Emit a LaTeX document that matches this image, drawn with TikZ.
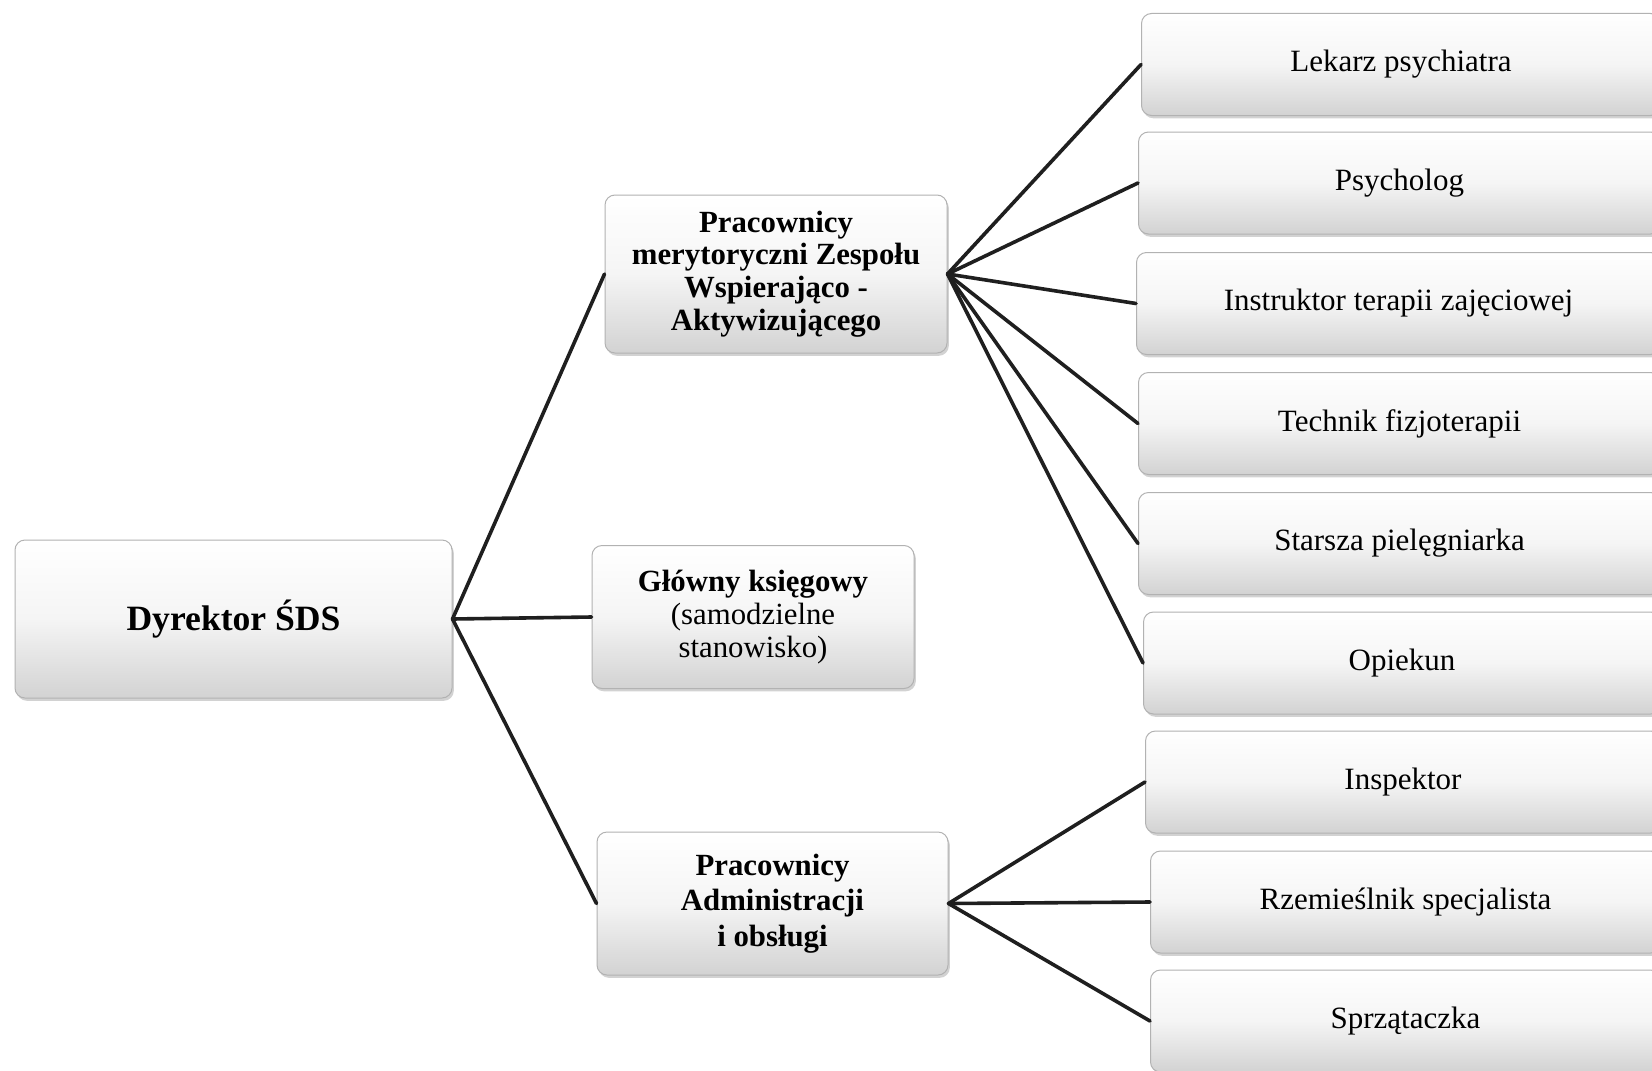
\documentclass[tikz,border=0pt]{standalone}
\usepackage{fontspec}
\setmainfont{Liberation Serif}
\usetikzlibrary{shadows}
\begin{document}
\begin{tikzpicture}[x=0.5pt,y=-0.5pt,
  obox/.style={draw=gray!60, line width=0.5pt, rounded corners=5pt,
    top color=white, bottom color=gray!35, middle color=white!92!gray,
    drop shadow={shadow xshift=0.9pt, shadow yshift=-1.4pt, opacity=0.35},
    inner sep=0pt, align=center, text=black},
  bigbold/.style={font=\fontsize{17.8}{19}\selectfont\bfseries},
  midbold/.style={font=\fontsize{15.4}{16.3}\selectfont\bfseries},
  admbold/.style={font=\fontsize{15.4}{17.6}\selectfont\bfseries},
  midreg/.style={font=\fontsize{15.4}{16.3}\selectfont},
  leaf/.style={obox, anchor=west, minimum height=51pt, font=\fontsize{15.5}{17}\selectfont},
  link/.style={draw=black!88, line width=1.8pt, line cap=round}]
\useasboundingbox (0,0) rectangle (1652,1070);
\clip (0,0) rectangle (1652,1070);
\fill[white] (0,0) rectangle (1652,1070);

% main nodes
\node[obox, bigbold, minimum width=218.5pt, minimum height=79pt] (dyr) at (233.5,619) {Dyrektor ŚDS};
\node[obox, midbold, minimum width=171pt, minimum height=79pt] (mer) at (776,274)
  {Pracownicy\\merytoryczni Zespołu\\Wspierająco -\\Aktywizującego};
\node[obox, midreg, minimum width=161pt, minimum height=71.5pt] (glo) at (753,617)
  {{\bfseries Główny księgowy}\\(samodzielne\\stanowisko)};
\node[obox, admbold, minimum width=175.5pt, minimum height=71.5pt] (adm) at (772.5,903.5)
  {Pracownicy\\Administracji\\i obsługi};

% leaf nodes
\node[leaf, minimum width=259.5pt] (l1) at (1141,64.5) {Lekarz psychiatra};
\node[leaf, minimum width=261pt] (l2) at (1138,183) {Psycholog};
\node[leaf, minimum width=262pt] (l3) at (1136,303.5) {Instruktor terapii zajęciowej};
\node[leaf, minimum width=261pt] (l4) at (1138,423.5) {Technik fizjoterapii};
\node[leaf, minimum width=261pt] (l5) at (1138,543.5) {Starsza pielęgniarka};
\node[leaf, minimum width=258.5pt] (l6) at (1143,663) {Opiekun};
\node[leaf, minimum width=257.5pt] (l7) at (1145,782) {Inspektor};
\node[leaf, minimum width=255pt] (l8) at (1150,902) {Rzemieślnik specjalista};
\node[leaf, minimum width=255pt] (l9) at (1150,1021) {Sprzątaczka};

% connectors
\draw[link] (dyr.east) -- (mer.west);
\draw[link] (dyr.east) -- (glo.west);
\draw[link] (dyr.east) -- (adm.west);
\foreach \t in {l1,l2,l3,l4,l5,l6}{\draw[link] (mer.east) -- (\t.west);}
\foreach \t in {l7,l8,l9}{\draw[link] (adm.east) -- (\t.west);}
\end{tikzpicture}
\end{document}
